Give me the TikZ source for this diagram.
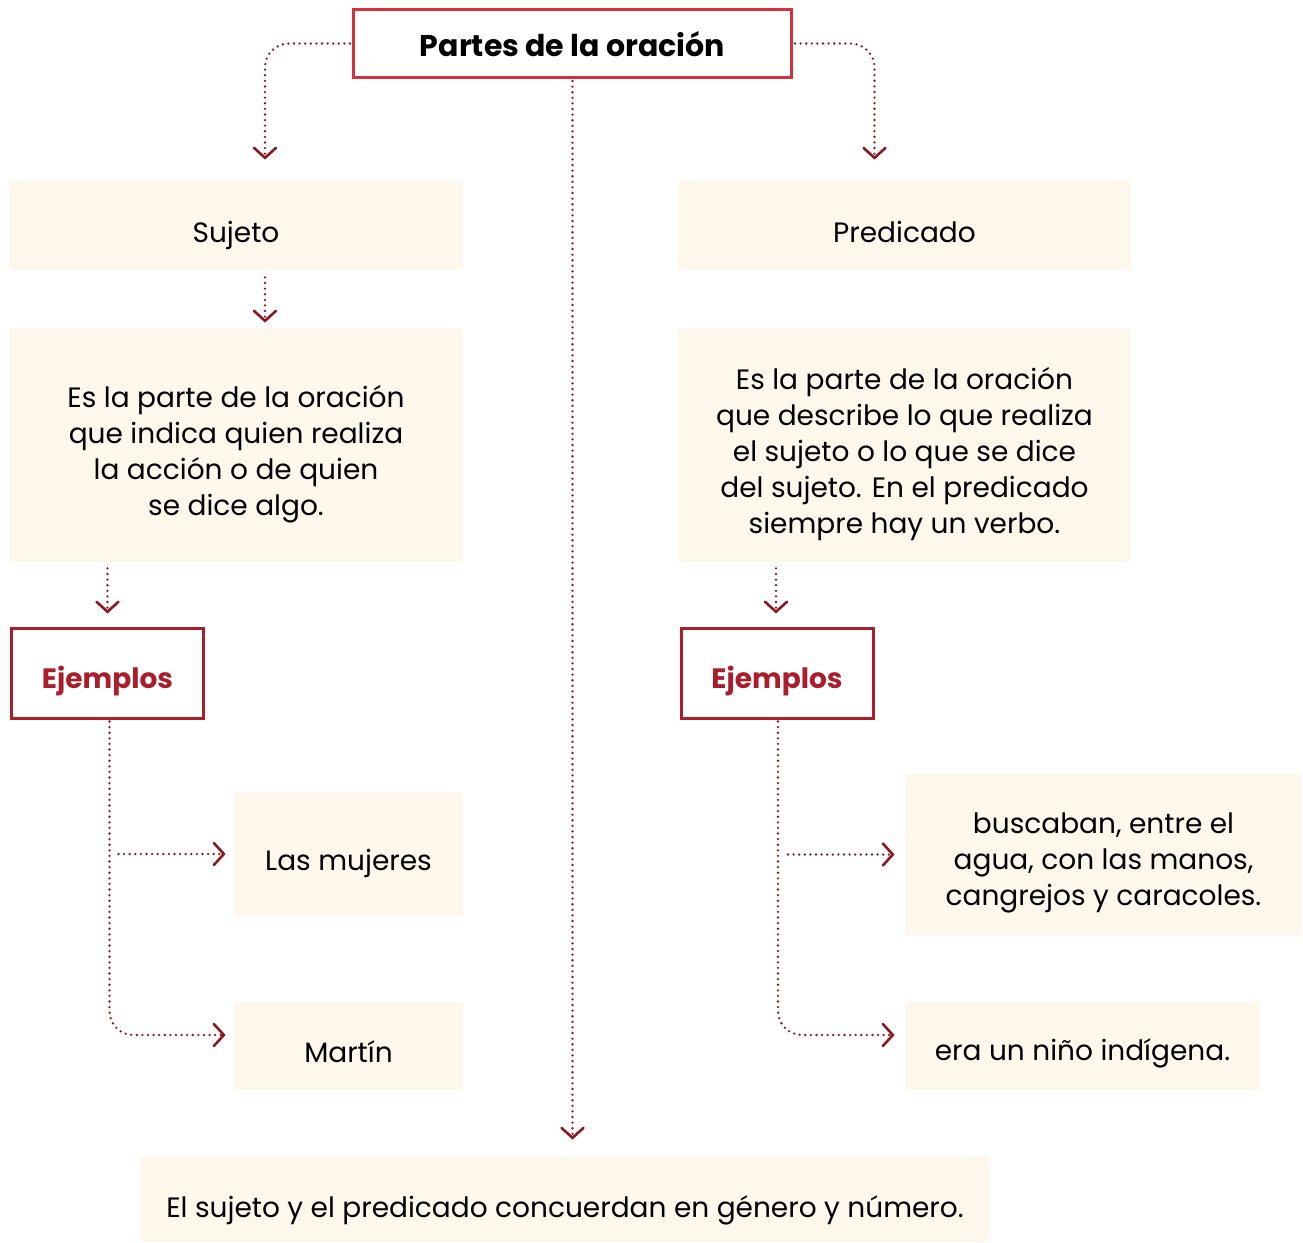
\documentclass[tikz,border=0pt]{standalone}
\usepackage{fontspec}
\setmainfont{Poppins}
\usetikzlibrary{arrows.meta}

\definecolor{crema}{HTML}{FDF7EC}
\definecolor{rojotitulo}{HTML}{D2323C}
\definecolor{rojoejemplo}{HTML}{A91E2A}
\definecolor{rojoflecha}{HTML}{8B1A1F}

\tikzset{
  cajatitulo/.style={draw=rojotitulo, line width=1.5pt, fill=white, minimum width=219pt, minimum height=34pt,
    text height=12.5pt, text depth=0pt, font=\fontsize{15}{18}\selectfont\bfseries},
  cajacrema/.style={fill=crema, inner sep=0pt, align=center, text depth=0pt, font=\fontsize{14}{18}\selectfont},
  lineas/.style={text height=#1},
  cajaejemplo/.style={draw=rojoejemplo, line width=1.5pt, minimum width=96pt, minimum height=45pt,
    text height=15pt, text depth=0pt, text=rojoejemplo, font=\fontsize{14}{18}\selectfont\bfseries},
  flecha/.style={draw=rojoflecha, line width=1.3pt, line cap=round, dash pattern=on 0pt off 2.8pt,
    -{Straight Barb[length=5pt, width=11pt, line width=1.3pt, line cap=round]}},
}

\begin{document}
\begin{tikzpicture}[x=0.5pt, y=-0.5pt]
  \useasboundingbox (0,0) rectangle (1303,1243);

  % cajas
  \node[cajatitulo] (titulo) at (572.5,43.5) {Partes de la oración};
  \node[cajacrema, lineas=16.5pt, minimum width=227pt, minimum height=44.5pt] (sujeto) at (236,225.5) {Sujeto};
  \node[cajacrema, lineas=16.5pt, minimum width=226.5pt, minimum height=44.5pt] (predicado) at (904.5,225.5) {Predicado};
  \node[cajacrema, lineas=70.5pt, minimum width=227pt, minimum height=117pt] (defsujeto) at (236,445)
    {Es la parte de la oración\\que indica quien realiza\\la acción o de quien\\se dice algo.};
  \node[cajacrema, lineas=88.5pt, minimum width=226.5pt, minimum height=117pt] (defpredicado) at (904.5,445)
    {Es la parte de la oración\\que describe lo que realiza\\el sujeto o lo que se dice\\del sujeto. En el predicado\\siempre hay un verbo.};
  \node[cajaejemplo] (ejemplos1) at (107.5,673) {Ejemplos};
  \node[cajaejemplo] (ejemplos2) at (777,673) {Ejemplos};
  \node[cajacrema, lineas=16pt, minimum width=114.5pt, minimum height=62pt] (mujeres) at (348.5,854) {Las mujeres};
  \node[cajacrema, lineas=16pt, minimum width=114.5pt, minimum height=44pt] (martin) at (348.5,1046) {Martín};
  \node[cajacrema, lineas=51pt, minimum width=198.5pt, minimum height=80.5pt] (buscaban) at (1103.5,854.5)
    {buscaban, entre el\\agua, con las manos,\\cangrejos y caracoles.};
  \node[cajacrema, lineas=14.5pt, minimum width=177.5pt, minimum height=44pt] (nino) at (1082.5,1046) {era un niño indígena.};
  \node[cajacrema, lineas=17.5pt, minimum width=425pt, minimum height=42.5pt] (conclusion) at (565,1199.5)
    {El sujeto y el predicado concuerdan en género y número.};

  % flechas
  \draw[flecha, rounded corners=12pt, shorten <=1pt, shorten >=10.5pt] (titulo.west) -| ([xshift=14.5pt]sujeto.north);
  \draw[flecha, rounded corners=12pt, shorten <=1pt, shorten >=10.5pt] (titulo.east) -| ([xshift=-15pt]predicado.north);
  \draw[flecha, shorten <=1pt, shorten >=8.5pt] (titulo.south) -- (titulo.south |- conclusion.north);
  \draw[flecha, shorten <=3.5pt, shorten >=2.5pt] ([xshift=14.5pt]sujeto.south) -- ([xshift=14.5pt]defsujeto.north);
  \draw[flecha, shorten <=3pt, shorten >=6.5pt] (ejemplos1.north |- defsujeto.south) -- (ejemplos1.north);
  \draw[flecha, shorten <=3pt, shorten >=6.5pt] ([xshift=-0.5pt]ejemplos2.north |- defpredicado.south) -- ([xshift=-0.5pt]ejemplos2.north);
  \draw[flecha, rounded corners=12pt, shorten <=1pt, shorten >=4pt] ([xshift=1pt]ejemplos1.south) |- ([yshift=5.5pt]martin.west);
  \draw[flecha, shorten >=4pt] ([xshift=5.5pt]ejemplos1.south |- mujeres.west) -- (mujeres.west);
  \draw[flecha, rounded corners=12pt, shorten <=1pt, shorten >=5pt] ([xshift=0.5pt]ejemplos2.south) |- ([yshift=5.5pt]nino.west);
  \draw[flecha, shorten >=5pt] ([xshift=5.5pt]ejemplos2.south |- buscaban.west) -- (buscaban.west);
\end{tikzpicture}
\end{document}
